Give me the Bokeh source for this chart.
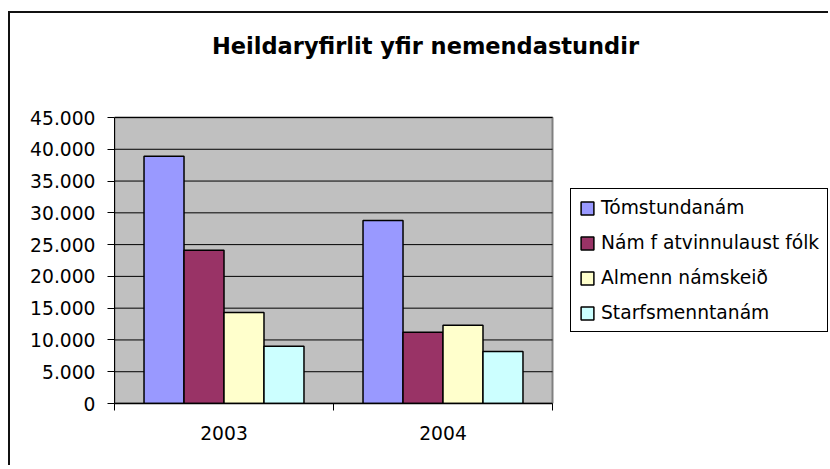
from bokeh.plotting import figure
from bokeh.models import (Range1d, LinearAxis, FixedTicker, Legend, LegendItem,
                          ColumnDataSource, BoxAnnotation, Label)
from bokeh.transform import dodge
from bokeh.embed import file_html
from bokeh.resources import INLINE

# ---- data ----
years = ["2003", "2004"]
series_names = ["Tómstundanám", "Nám f atvinnulaust fólk", "Almenn námskeið", "Starfsmenntanám"]
tomstundanam = [38900, 28800]
nam_atvinnulaust = [24100, 11200]
almenn_namskeid = [14300, 12300]
starfsmenntanam = [9000, 8200]
colors = ["#9999FF", "#993366", "#FFFFCC", "#CCFFFF"]
y_max = 45000
y_ticks = [0, 5000, 10000, 15000, 20000, 25000, 30000, 35000, 40000, 45000]
y_labels = ["0", "5.000", "10.000", "15.000", "20.000", "25.000", "30.000", "35.000", "40.000", "45.000"]
title_text = "Heildaryfirlit yfir nemendastundir"

FONT = "DejaVu Sans"
LBL = "18.7px"

# ---- layout (pixels) ----
W, H = 820, 454
BL, BB = 104, 64            # left / bottom borders
PLOT_W, PLOT_H = 438, 286   # grey plot-area size
frame_w, frame_h = W - BL, H - BB

n = len(years)
xs = [i + 0.5 for i in range(n)]
source = ColumnDataSource(dict(x=xs, s0=tomstundanam, s1=nam_atvinnulaust,
                               s2=almenn_namskeid, s3=starfsmenntanam))

p = figure(width=W, height=H,
           x_range=Range1d(0, n * frame_w / PLOT_W),
           y_range=Range1d(0, y_max * frame_h / PLOT_H),
           output_backend="svg", toolbar_location=None, x_axis_type=None, y_axis_type=None,
           min_border_left=BL, min_border_right=0, min_border_top=0, min_border_bottom=BB)
p.styles = {"margin-top": "11px", "margin-left": "8px",
            "border-top": "2px solid #111", "border-left": "2px solid #111"}
p.background_fill_color = "white"
p.border_fill_color = "white"
p.outline_line_color = None

# grey plot area
p.add_layout(BoxAnnotation(left=0, right=n, bottom=0, top=y_max, level="underlay",
                           fill_color="#C0C0C0", fill_alpha=1,
                           line_color="#808080", line_width=2, line_alpha=1))
# horizontal gridlines
p.segment(x0=[0] * len(y_ticks), x1=[n] * len(y_ticks), y0=y_ticks, y1=y_ticks,
          line_color="black", line_width=1)

# y axis
yaxis = LinearAxis(ticker=FixedTicker(ticks=y_ticks), bounds=(0, y_max))
yaxis.major_label_overrides = {t: l for t, l in zip(y_ticks, y_labels)}
yaxis.major_label_text_font = FONT
yaxis.major_label_text_font_size = LBL
yaxis.major_label_text_color = "black"
yaxis.major_tick_out = 7
yaxis.major_tick_in = 0
yaxis.minor_tick_line_color = None
yaxis.major_label_standoff = 12
yaxis.axis_line_color = "black"
yaxis.major_tick_line_color = "black"
p.add_layout(yaxis, "left")

# x axis: boundary ticks
bticks = list(range(n + 1))
xaxis1 = LinearAxis(ticker=FixedTicker(ticks=bticks), bounds=(0, n))
xaxis1.major_label_overrides = {t: "" for t in bticks}
xaxis1.major_label_text_font_size = "0px"
xaxis1.major_label_standoff = 0
xaxis1.major_tick_out = 7
xaxis1.major_tick_in = 0
xaxis1.minor_tick_line_color = None
xaxis1.axis_line_color = "black"
xaxis1.axis_line_width = 1.5
xaxis1.major_tick_line_color = "black"
p.add_layout(xaxis1, "below")

# x axis: category labels
xaxis2 = LinearAxis(ticker=FixedTicker(ticks=xs))
xaxis2.major_label_overrides = {x: y for x, y in zip(xs, years)}
xaxis2.major_label_text_font = FONT
xaxis2.major_label_text_font_size = LBL
xaxis2.major_label_text_color = "black"
xaxis2.major_label_standoff = 9
xaxis2.major_tick_line_color = None
xaxis2.minor_tick_line_color = None
xaxis2.axis_line_color = None
p.add_layout(xaxis2, "below")

bw = 0.1826
items = []
for k, (name, col, c) in enumerate(zip(series_names, ["s0", "s1", "s2", "s3"], colors)):
    r = p.vbar(x=dodge("x", (k - 1.5) * bw, range=p.x_range), top=col, width=bw, source=source,
               fill_color=c, line_color="black", line_width=1.5)
    items.append(LegendItem(label=name, renderers=[r]))

legend = Legend(items=items, location=(456, 71), margin=0, padding=8, spacing=14,
                glyph_width=16, glyph_height=16, label_standoff=6,
                label_text_font=FONT, label_text_font_size=LBL, label_text_color="black",
                border_line_color="black", border_line_width=1, background_fill_color="white",
                border_line_alpha=1, background_fill_alpha=1)
p.add_layout(legend, "center")

# chart title
p.add_layout(Label(x=311, y=358, x_units="screen", y_units="screen", text=title_text,
                   text_align="center", text_baseline="alphabetic",
                   text_font=FONT, text_font_size="22.5px", text_font_style="bold",
                   text_color="black"))

open("out.html", "w").write(file_html(p, INLINE))
